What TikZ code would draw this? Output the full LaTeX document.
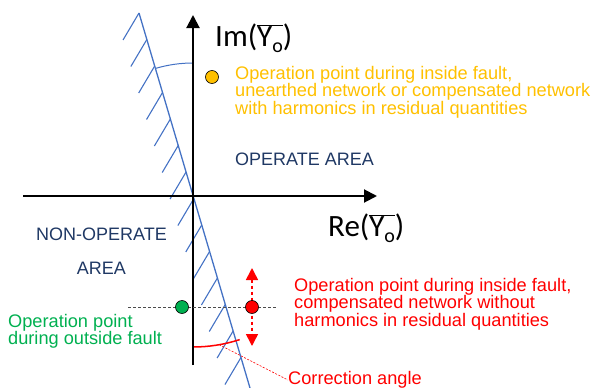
\documentclass[tikz,border=0pt]{standalone}
\usepackage{fontspec}
\setmainfont{Liberation Sans}
\newfontfamily\calibrifont{Carlito}
\usepackage{tikz}
\usetikzlibrary{arrows.meta, positioning, calc}
\definecolor{hatchblue}{HTML}{4472C4}
\definecolor{opyellow}{HTML}{FFC000}
\definecolor{opgreen}{HTML}{00B050}
\definecolor{opred}{HTML}{FF0000}
\definecolor{areablue}{HTML}{1F3864}
\newcommand{\admY}{$\overline{\hbox{Y\lower0.45ex\hbox{\fontsize{20}{20}\selectfont o}}}$}
\tikzset{
  axisline/.style={line width=2pt, -{Triangle[length=13pt, width=13pt]}},
  boundary/.style={draw=hatchblue, line width=1.3pt},
  hatch/.style={draw=hatchblue, line width=1.1pt},
  oppoint/.style={circle, draw=black, line width=0.6pt, minimum size=13pt, inner sep=0pt},
  note/.style={align=left, font=\fontsize{18.2}{17.4}\selectfont, inner sep=0pt, anchor=north west},
  area/.style={text=areablue, font=\fontsize{18}{34}\selectfont, inner sep=0pt, align=center},
  axislabel/.style={font=\calibrifont\fontsize{31}{33}\selectfont, inner sep=0pt},
  guide/.style={densely dashed, draw=black!70, line width=0.7pt},
  leader/.style={dashed, draw=opred, line width=0.6pt, dash pattern=on 2pt off 1.5pt},
  swing/.style={dashed, draw=opred, line width=1.6pt, {Triangle[length=12pt, width=12pt]}-{Triangle[length=12pt, width=12pt]}},
}
\begin{document}
\begin{tikzpicture}[x=1pt, y=-1pt]
\useasboundingbox (0,0) rectangle (592,388);
\clip (0,0) rectangle (592,388);

\coordinate (O) at (193,196);
\coordinate (imbot) at (193,365);
\coordinate (imtop) at (193,15);
\coordinate (releft) at (23,196);
\coordinate (retip) at (377,196);
\coordinate (bndtop) at (139,13);
\coordinate (bndbot) at (250,388);

\draw[boundary] (bndtop) -- (bndbot);
\foreach \i in {0,...,13}
  \draw[hatch] ($(bndtop)!{\i*26.5/375}!(bndbot)$) -- ++(-16,27);
\draw[hatchblue, line width=1pt] (O) ++(-90:133) arc[start angle=-90, end angle=-106.4, radius=133];
\draw[opred, line width=1.5pt] (O) ++(90:151) arc[start angle=90, end angle=72, radius=151];
\coordinate (corrpt) at ($(O)+(80:151)$);

\draw[axisline] (imbot) -- (imtop);
\draw[axisline] (releft) -- (retip);

\node[axislabel, anchor=base west] (imlabel) at (215,46) {Im(\admY)};
\node[axislabel, anchor=base west] (relabel) at (328,236) {Re(\admY)};

\coordinate (guideleft) at (128,307);
\coordinate (guideright) at (277,307);
\draw[guide] (guideleft) -- (guideright);

\coordinate (swingtop) at (252,268);
\coordinate (swingbot) at (252,346);
\draw[swing] (swingtop) -- (swingbot);

\node[oppoint, fill=opyellow] (yellowpt) at (212,77) {};
\node[oppoint, fill=opgreen] (greenpt) at (182,307) {};
\node[oppoint, fill=opred] (redpt) at (252,307) {};

\node[note, text=opyellow] (yellownote) at (235,66) {Operation point during inside fault,\\unearthed network or compensated network\\with harmonics in residual quantities};
\node[note, text=opred] (rednote) at (294,278) {Operation point during inside fault,\\compensated network without\\harmonics in residual quantities};
\node[note, text=opgreen] (greennote) at (8,314) {Operation point\\during outside fault};

\node[area, anchor=base west] (operate) at (235,165) {OPERATE AREA};
\node[area, anchor=north] (nonoperate) at (101.5,227.3) {NON-OPERATE\\AREA};

\node[note, text=opred, anchor=west] (corrlabel) at (288,380) {Correction angle};
\draw[leader] (corrpt) -- (corrlabel.west);
\end{tikzpicture}
\end{document}
